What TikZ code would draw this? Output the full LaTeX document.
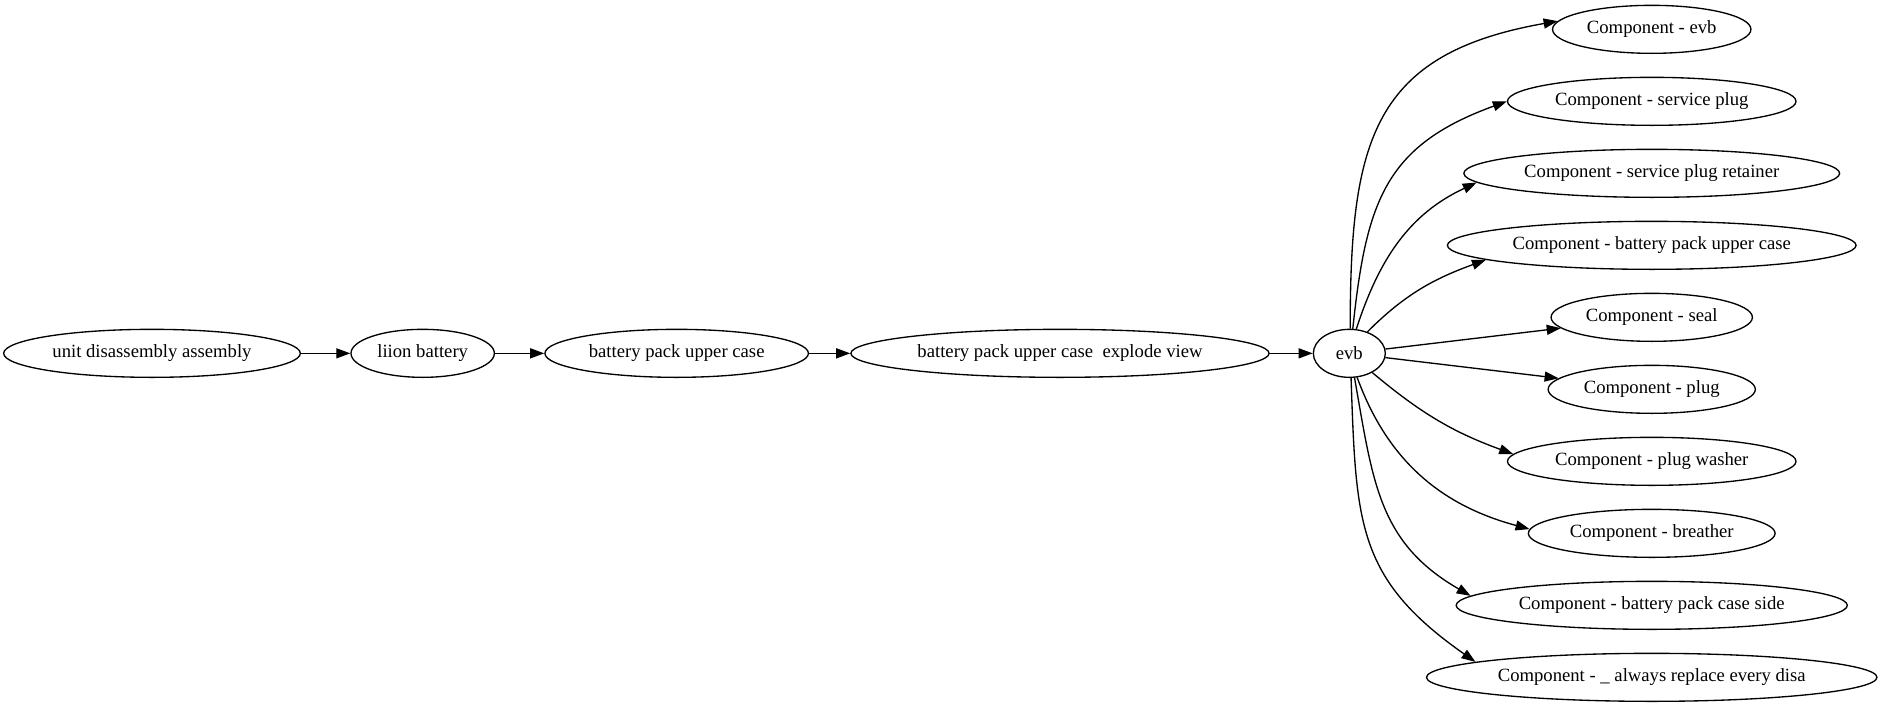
\documentclass[tikz,border=0pt]{standalone}
\usepackage{fontspec}
\setmainfont{Liberation Serif}
\usepackage{tikz}
\usetikzlibrary{shapes}
\usetikzlibrary{arrows.meta}

\begin{document}
\begin{tikzpicture}[x=1pt, y=1pt,
        box/.style={draw, ellipse, line width=1pt, minimum width=54pt, minimum height=36pt,
            inner xsep=4pt, inner ysep=2pt, font=\fontsize{14pt}{16pt}\selectfont},
        link/.style={line width=1pt, -{Triangle[length=10.5pt, width=7.5pt]}}]
        \useasboundingbox (0,0) rectangle (1408.5,-530.25);

        \node [box] (unit) at (114,-265) {unit disassembly assembly};
        \node [box] (liion) at (317,-265) {liion battery};
        \node [box] (upper) at (507.5,-265) {battery pack upper case};
        \node [box] (explode) at (795,-265) {battery pack upper case~ explode view};
        \node [box] (evb) at (1012,-265) {evb};

        \node [box] (cevb) at (1238.8,-22) {Component - evb};
        \node [box] (cplug) at (1238.8,-76) {Component - service plug};
        \node [box] (cretainer) at (1238.8,-130) {Component - service plug retainer};
        \node [box] (cupper) at (1238.8,-184) {Component - battery pack upper case};
        \node [box] (cseal) at (1238.8,-238) {Component - seal};
        \node [box] (cplg) at (1238.8,-292) {Component - plug};
        \node [box] (cwasher) at (1238.8,-346) {Component - plug washer};
        \node [box] (cbreather) at (1238.8,-400) {Component - breather};
        \node [box] (cside) at (1238.8,-454) {Component - battery pack case side};
        \node [box] (calways) at (1238.8,-508) {Component - \_ always replace every disa};

        \draw [link] (unit) -- (liion);
        \draw [link] (liion) -- (upper);
        \draw [link] (upper) -- (explode);
        \draw [link] (explode) -- (evb);

        \draw [link] (evb.88) to[out=90, in=190, looseness=1.3] (cevb.175);
        \draw [link] (evb.82) to[out=84, in=200, looseness=1.2] (cplug.180);
        \draw [link] (evb.74) to[out=72, in=205] (cretainer.183);
        \draw [link] (evb.50) to[out=45, in=200] (cupper.185);
        \draw [link] (evb) -- (cseal);
        \draw [link] (evb) -- (cplg);
        \draw [link] (evb.-40) to[out=-40, in=160] (cwasher.177);
        \draw [link] (evb.-72) to[out=-70, in=165] (cbreather.178);
        \draw [link] (evb.-78) to[out=-80, in=150, looseness=1.1] (cside.177);
        \draw [link] (evb.-86) to[out=-88, in=145, looseness=1.2] (calways.175);
\end{tikzpicture}
\end{document}
